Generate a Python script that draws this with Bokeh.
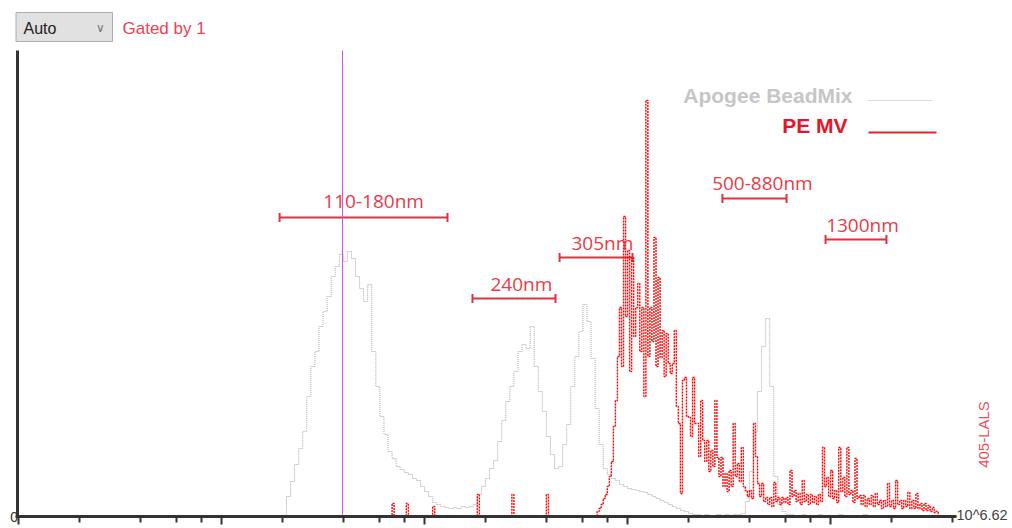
import numpy as np
from bokeh.plotting import figure
from bokeh.models import (Range1d, FixedTicker, Whisker, ColumnDataSource,
                          Label, BoxAnnotation, TeeHead)
from bokeh.embed import file_html
from bokeh.resources import INLINE
from bokeh.core.properties import value

# ---------------- data ----------------
LOG_MIN = 2.0          # left end of the log axis (10^2)
LOG_MAX = 6.62         # right end of the log axis (10^6.62)
BIN_W_BEAD = 0.02      # channel width (decades) of the bead histogram
BIN_W_MV = 0.01        # channel width (decades) of the MV histogram

beadmix_counts = ([0] * 66 +
    [20, 35, 52, 68, 85, 120, 150, 165, 190, 205, 220, 240, 250, 262, 255,
     265, 258, 240, 228, 215, 232, 165, 130, 100, 82, 65, 58, 50, 47, 44,
     42, 38, 36, 30, 25, 20, 14, 12, 10, 9, 8, 9, 8, 10, 9, 10, 12] +
    [22, 30, 38, 48, 56, 75, 96, 115, 130, 145, 165, 172, 168, 190, 150,
     125, 105, 80, 62, 48, 50, 72, 92, 130, 160, 185, 212, 195, 158, 108,
     72, 48, 42, 38, 36, 32, 30, 28, 27, 26, 25, 24, 22, 20, 18,
     16, 14, 12, 10, 8, 6, 5, 3, 2] +
    [2, 1, 2, 1, 1, 2, 1, 2, 1, 2, 2, 3, 15, 45, 85, 125, 170, 198, 130, 40,
     12, 5, 2] +
    [2, 1, 1, 2, 1, 1, 1, 2, 1, 1, 1, 1, 2, 1, 1, 1, 1, 1, 2, 1,
     1, 1, 1, 1, 1, 1, 1, 1, 1, 0, 1, 1, 0, 1, 0, 0, 0, 0, 0, 0, 0])

pemv_counts = ([0] * 184 + [13] + [0] * 6 + [13] + [0] * 12 + [10] + [0] * 21 + [22] +
    [0] * 16 + [22] + [0] * 16 + [22] + [0] * 24 +
    [5, 8, 12, 18, 22, 30, 40, 55, 90, 116,
     160, 209, 150, 300, 200, 266, 145, 259, 180, 209,
     233, 165, 209, 120, 416, 160, 209, 175, 279, 150,
     239, 159, 186, 140, 183, 153, 143, 153, 186, 110,
     93, 23, 136, 139, 100, 99, 80, 139, 93, 93,
     60, 116, 76, 55, 76, 45, 66, 50, 116, 59,
     40, 59, 30, 43, 25, 46, 30, 93, 40, 53,
     35, 69, 30, 26, 20, 26, 18, 93, 60, 33,
     20, 33, 15, 19, 12, 19, 10, 34, 15, 19,
     12, 19, 14, 19, 12, 46, 20, 26, 15, 23,
     12, 36, 15, 22, 12, 22, 14, 20, 12, 22,
     15, 69, 30, 39, 20, 46, 18, 26, 14, 69,
     25, 39, 20, 69, 22, 26, 14, 58, 18, 21,
     12, 21, 10, 18, 12, 21, 10, 23, 12, 16,
     8, 16, 10, 33, 10, 16, 8, 36, 12, 16,
     8, 16, 10, 24, 8, 16, 8, 23, 8, 13,
     6, 13, 6, 11, 5, 9, 4, 5] +
    [0] * 9)

series_names = ["Apogee BeadMix", "PE MV"]

range_labels = ["110-180nm", "240nm", "305nm", "500-880nm", "1300nm"]
range_lo_log = [3.286, 4.236, 4.665, 5.467, 5.975]
range_hi_log = [4.113, 4.645, 5.024, 5.783, 6.275]
range_level = [299, 218, 259, 318, 277]
label_x_log = [3.749, 4.477, 4.876, 5.664, 6.157]
label_level = [316, 233, 274, 334, 292]

gate_log = 3.596
y_top = 466
axis_end_text = "10^6.62"
param_name = "405-LALS"
gate_text = "Gated by 1"
scale_mode = "Auto"

# ---------------- layout helpers (page pixel -> data) ----------------
DEC_PX = 203.03                      # pixels per decade
X0_LOG = LOG_MIN - 18 / DEC_PX       # log value at the left page edge
W, H = 1012, 528
BASE_PX = 516                        # page row of the x axis


def xd(px):
    return 10 ** (X0_LOG + px / DEC_PX)


def yd(py):
    return BASE_PX - py


# ---------------- figure ----------------
p = figure(width=W, height=H, x_axis_type="log", title=None,
           x_range=Range1d(xd(0), xd(W)), y_range=Range1d(yd(H), yd(0)),
           output_backend="svg", toolbar_location=None,
           min_border_left=0, min_border_right=0, min_border_top=0, min_border_bottom=0)
p.outline_line_color = None
p.xgrid.grid_line_color = None
p.ygrid.grid_line_color = None
p.background_fill_color = "white"
p.border_fill_color = "white"

major = [10.0 ** d for d in range(2, 7)]
minor = [m * 10.0 ** d for d in range(2, 7) for m in (2, 4, 6, 8) if m * 10.0 ** d <= 10 ** LOG_MAX]
xa = p.xaxis[0]
xa.fixed_location = 0
xa.bounds = (xd(15), 10 ** LOG_MAX)
xa.ticker = FixedTicker(ticks=major, minor_ticks=minor)
xa.axis_line_width = 3
xa.axis_line_color = "#333333"
xa.major_tick_line_color = "#333333"
xa.minor_tick_line_color = "#333333"
xa.major_tick_line_width = 2
xa.minor_tick_line_width = 2
xa.major_tick_out = 8
xa.major_tick_in = 0
xa.minor_tick_out = 6
xa.minor_tick_in = 0
xa.major_label_text_font_size = "1px"
xa.major_label_text_alpha = 0.0
xa.major_label_standoff = 0

ya = p.yaxis[0]
ya.fixed_location = xd(16.5)
ya.bounds = (0, y_top)
ya.ticker = FixedTicker(ticks=[0])
ya.axis_line_width = 3
ya.axis_line_color = "#333333"
ya.major_tick_out = 0
ya.major_tick_in = 0
ya.minor_tick_out = 0
ya.minor_tick_in = 0
ya.major_label_standoff = -1
ya.major_label_text_font_size = "14px"
ya.major_label_text_color = "#333333"
ya.major_label_text_font = "Liberation Sans"

# histograms (step)
bead_edges = 10 ** (LOG_MIN + BIN_W_BEAD * np.arange(len(beadmix_counts) + 1))
mv_edges = 10 ** (LOG_MIN + BIN_W_MV * np.arange(len(pemv_counts) + 1))
gray_y = list(beadmix_counts) + [beadmix_counts[-1]]
red_y = list(pemv_counts) + [pemv_counts[-1]]
p.step(bead_edges, gray_y, mode="after", line_color="#a8a8a8", line_width=1, line_dash="1 1")
p.step(mv_edges, red_y, mode="after", line_color="#ff0000", line_width=1.4, line_dash="2 1")

# gate line
p.segment(x0=[10 ** gate_log], y0=[0], x1=[10 ** gate_log], y1=[y_top],
          line_color="#cc55dd", line_width=1)

# bead size ranges
rsrc = ColumnDataSource(dict(lo=[10 ** v for v in range_lo_log], hi=[10 ** v for v in range_hi_log],
                             base=range_level))
RC = "#e0323e"
p.add_layout(Whisker(source=rsrc, base="base", lower="lo", upper="hi", dimension="width",
                     line_color=RC, line_width=2,
                     lower_head=TeeHead(size=9, line_color=RC, line_width=2),
                     upper_head=TeeHead(size=9, line_color=RC, line_width=2)))
lsrc = ColumnDataSource(dict(x=[10 ** v for v in label_x_log], y=label_level, t=range_labels))
p.text(x="x", y="y", text="t", source=lsrc, text_align="center", text_baseline="middle",
       text_font=value("Open Sans"), text_font_size="19px", text_color="#e63c48")

# legend (text left of line sample)
p.segment(x0=[xd(868)], y0=[yd(100)], x1=[xd(932)], y1=[yd(100)],
          line_color="#b8b8b8", line_width=1, line_dash="1 1")
p.segment(x0=[xd(868)], y0=[yd(132)], x1=[xd(936)], y1=[yd(132)],
          line_color="#e8202c", line_width=2)
p.add_layout(Label(x=xd(852), y=yd(95), text=series_names[0], text_align="right",
                   text_baseline="middle", text_font="Liberation Sans", text_font_style="bold",
                   text_font_size="21px", text_color="#c6c6c6"))
p.add_layout(Label(x=xd(847), y=yd(125), text=series_names[1], text_align="right",
                   text_baseline="middle", text_font="Liberation Sans", text_font_style="bold",
                   text_font_size="21px", text_color="#e8142a"))

# axis end and parameter name
p.add_layout(Label(x=10 ** LOG_MAX, y=yd(514), x_offset=0, text=axis_end_text, text_align="left",
                   text_baseline="middle", text_font="Liberation Sans", text_font_size="14.5px",
                   text_color="#444444"))
p.add_layout(Label(x=xd(983), y=yd(434), text=param_name, angle=np.pi / 2,
                   text_align="center", text_baseline="middle", text_font="Liberation Sans",
                   text_font_size="15px", text_color="#e8505c"))

# top bar: scale selector and gate text
p.add_layout(BoxAnnotation(left=xd(15.5), right=xd(112), top=yd(12), bottom=yd(41),
                           fill_color="#e1e1e1", fill_alpha=1.0,
                           line_color="#adadad", line_width=1, line_alpha=1.0))
p.add_layout(Label(x=xd(23), y=yd(28), text=scale_mode,
                   text_baseline="middle", text_font="Liberation Sans", text_font_size="16px",
                   text_color="#222222"))
p.add_layout(Label(x=xd(100), y=yd(27), text="\u2228",
                   text_align="center", text_baseline="middle", text_font="DejaVu Sans",
                   text_font_size="12px", text_color="#777777"))
p.add_layout(Label(x=xd(122), y=yd(28), text=gate_text,
                   text_baseline="middle", text_font="Liberation Sans", text_font_size="17px",
                   text_color="#e84452"))

open("out.html", "w").write(file_html(p, INLINE))
